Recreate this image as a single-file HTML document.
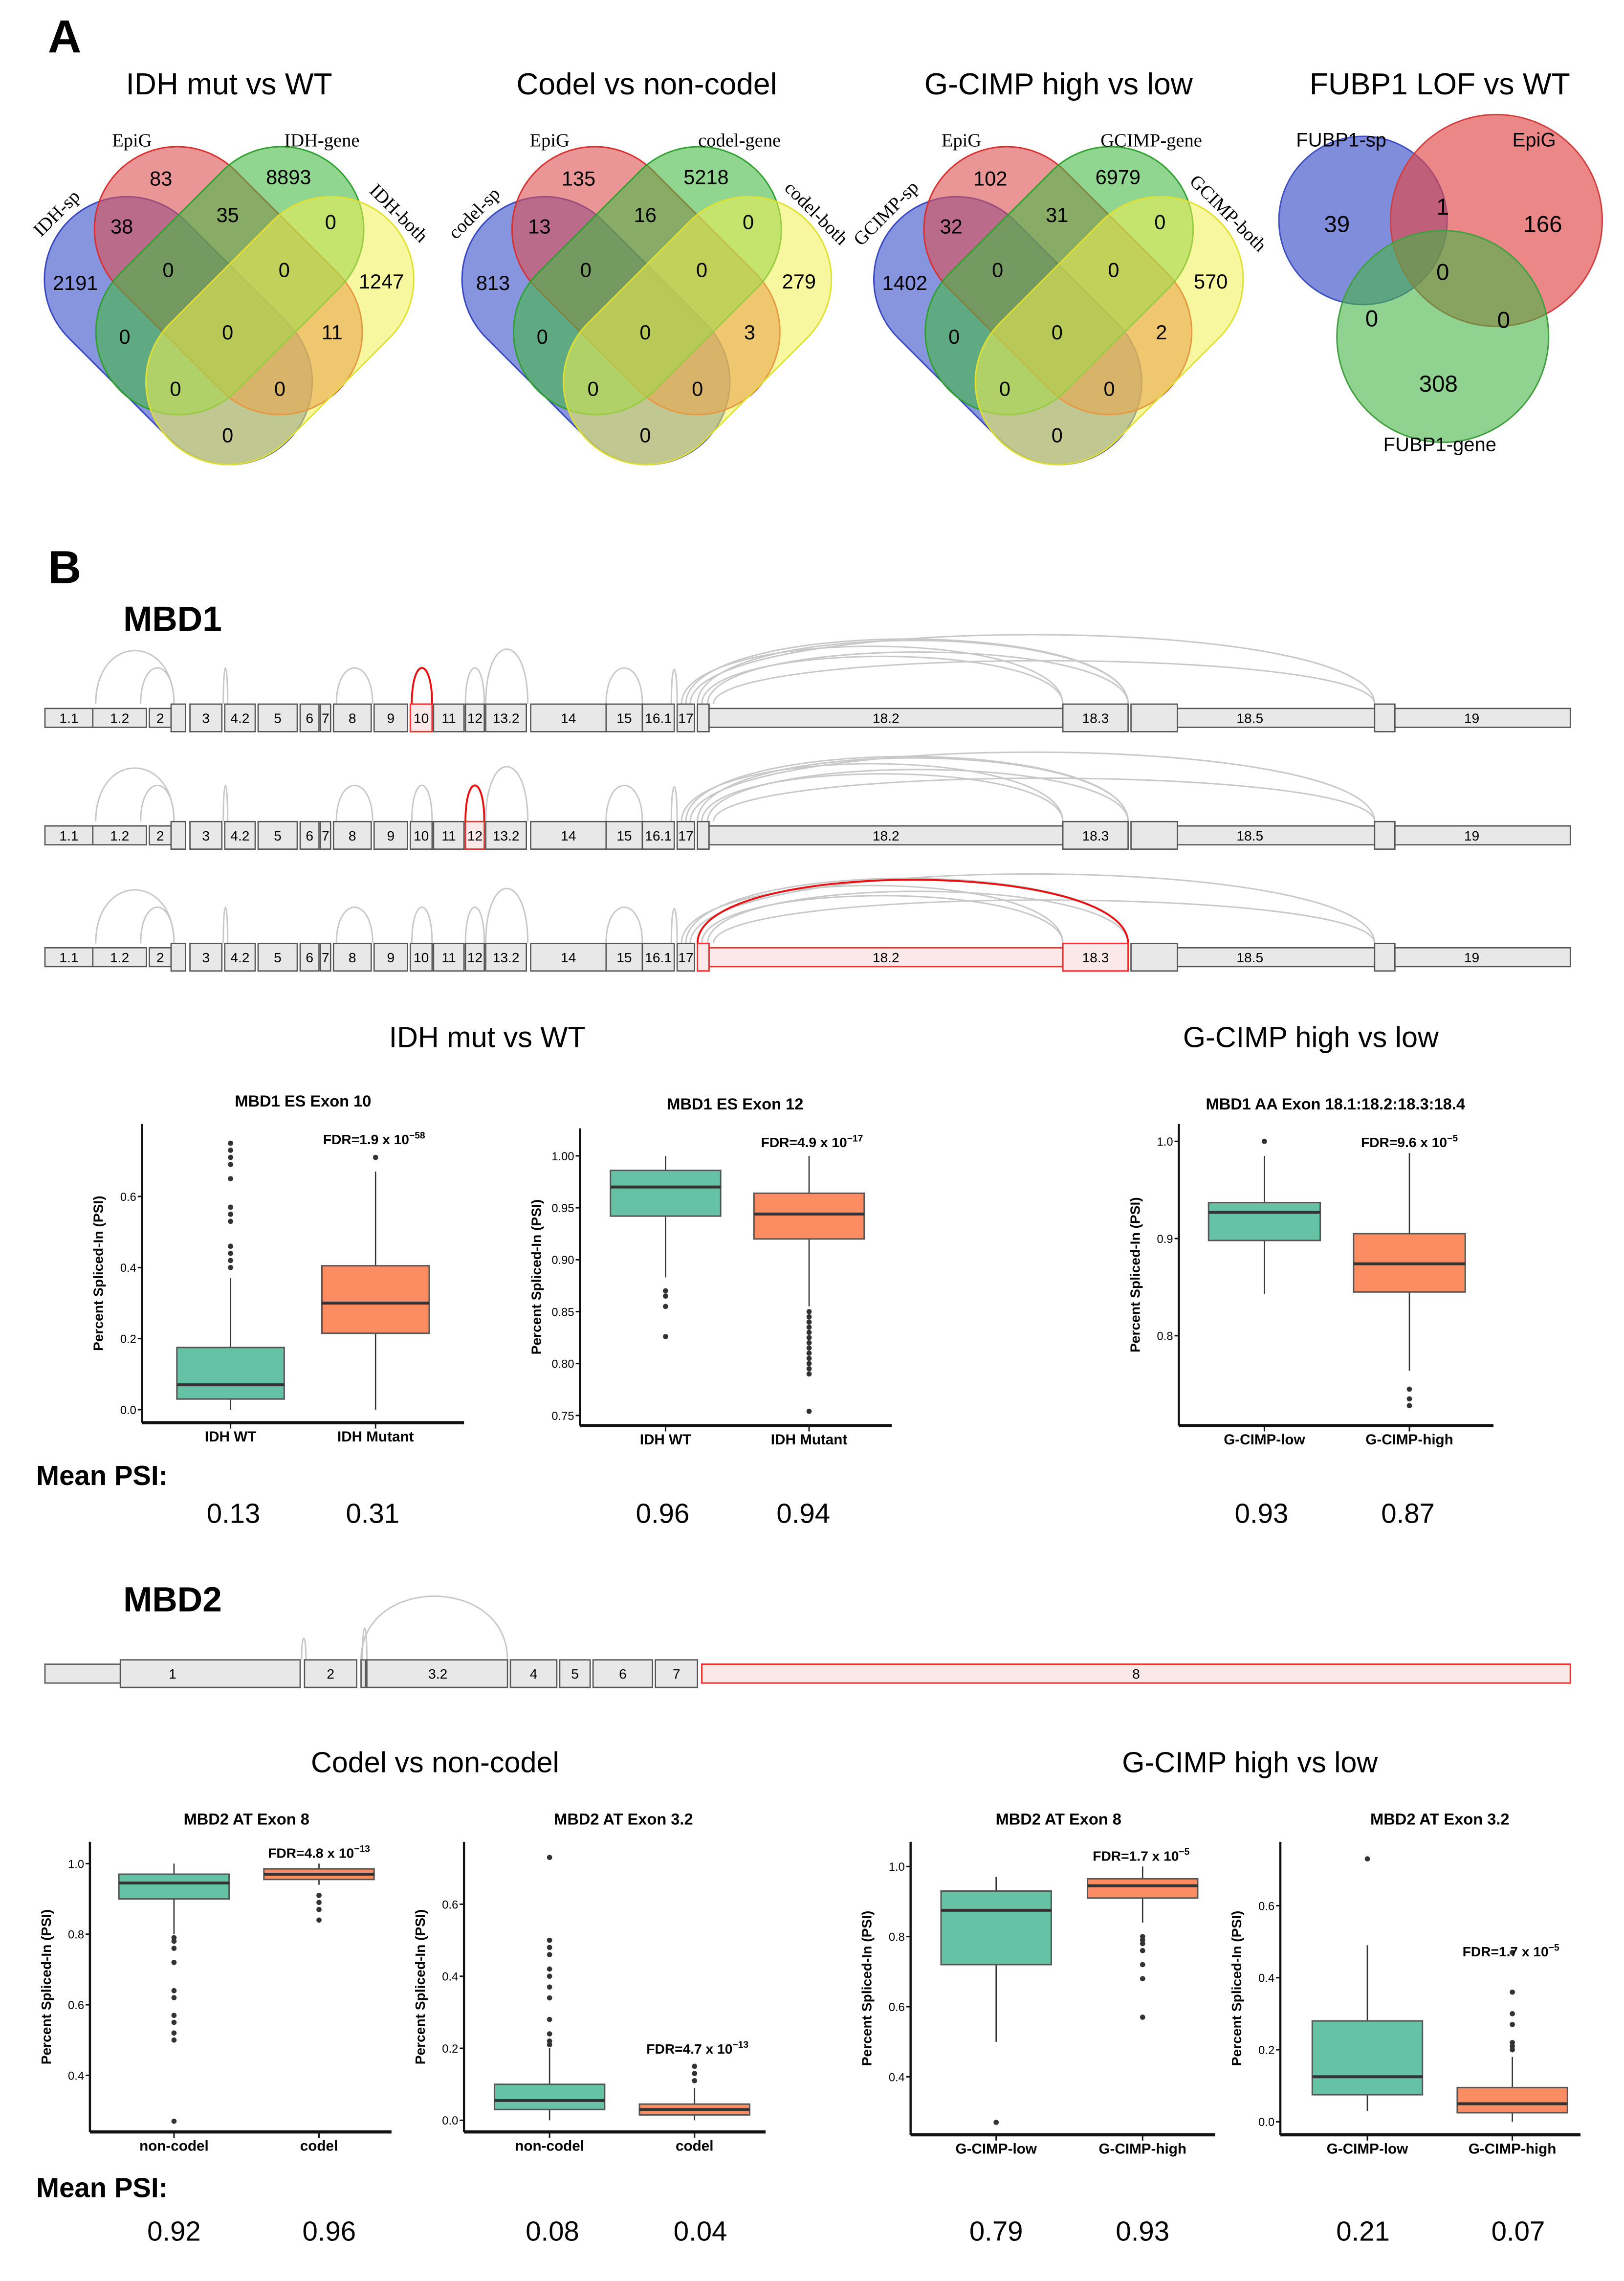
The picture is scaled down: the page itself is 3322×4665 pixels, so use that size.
<!DOCTYPE html>
<html><head><meta charset="utf-8"><style>
html,body{margin:0;padding:0;background:#fff;}
svg{display:block;}
text{font-family:"Liberation Sans",sans-serif;}
.sf{font-family:"Liberation Serif",serif;}
.nar{font-family:"Liberation Sans Narrow","Liberation Sans",sans-serif;}
</style></head><body>
<svg id="fig" xmlns="http://www.w3.org/2000/svg" width="3322" height="4665" viewBox="0 0 1120 1572.8" preserveAspectRatio="none">
<rect x="0" y="0" width="1120" height="1573" fill="#fff"/>
<text x="33" y="36" font-size="32" font-weight="bold">A</text>
<text x="33" y="402" font-size="32" font-weight="bold">B</text>
<text x="158" y="65" font-size="21" text-anchor="middle">IDH mut vs WT</text>
<text x="446" y="65" font-size="21" text-anchor="middle">Codel vs non-codel</text>
<text x="730" y="65" font-size="21" text-anchor="middle">G-CIMP high vs low</text>
<text x="993" y="65" font-size="21" text-anchor="middle">FUBP1 LOF vs WT</text>
<g id="venns"></g>
<text x="85" y="435" font-size="24" font-weight="bold">MBD1</text>
<text x="85" y="1111" font-size="24" font-weight="bold">MBD2</text>
<g id="genes"></g>
<text x="336" y="722" font-size="20" text-anchor="middle">IDH mut vs WT</text>
<text x="904" y="722" font-size="20" text-anchor="middle">G-CIMP high vs low</text>
<text x="300" y="1222" font-size="20" text-anchor="middle">Codel vs non-codel</text>
<text x="862" y="1222" font-size="20" text-anchor="middle">G-CIMP high vs low</text>
<g id="plots"></g>
<text x="25" y="1024" font-size="19" font-weight="bold" class="nar">Mean PSI:</text>
<text x="25" y="1515" font-size="19" font-weight="bold" class="nar">Mean PSI:</text>
<g font-size="19" text-anchor="middle">
<text x="161" y="1050">0.13</text>
<text x="257" y="1050">0.31</text>
<text x="457" y="1050">0.96</text>
<text x="554" y="1050">0.94</text>
<text x="870" y="1050">0.93</text>
<text x="971" y="1050">0.87</text>
</g>
<g font-size="19" text-anchor="middle">
<text x="120" y="1545">0.92</text>
<text x="227" y="1545">0.96</text>
<text x="381" y="1545">0.08</text>
<text x="483" y="1545">0.04</text>
<text x="687" y="1545">0.79</text>
<text x="788" y="1545">0.93</text>
<text x="940" y="1545">0.21</text>
<text x="1047" y="1545">0.07</text>
</g>
</svg>
<script>
// ===== Box plot data =====
const p1Cats=['IDH WT','IDH Mutant'];
const p1Low=[0.0,0.0];const p1Q1=[0.03,0.215];const p1Med=[0.07,0.30];const p1Q3=[0.175,0.405];const p1High=[0.37,0.67];
const p1Out=[[0.40,0.42,0.44,0.46,0.53,0.55,0.57,0.65,0.69,0.71,0.73,0.75],[0.71]];
const p1Ticks=[0.0,0.2,0.4,0.6];
const p2Cats=['IDH WT','IDH Mutant'];
const p2Low=[0.883,0.855];const p2Q1=[0.942,0.92];const p2Med=[0.97,0.944];const p2Q3=[0.986,0.964];const p2High=[1.0,1.0];
const p2Out=[[0.87,0.865,0.855,0.826],[0.85,0.845,0.84,0.835,0.83,0.825,0.82,0.815,0.81,0.805,0.80,0.795,0.79,0.754]];
const p2Ticks=[0.75,0.80,0.85,0.90,0.95,1.00];
const p3Cats=['G-CIMP-low','G-CIMP-high'];
const p3Low=[0.843,0.764];const p3Q1=[0.898,0.845];const p3Med=[0.927,0.874];const p3Q3=[0.937,0.905];const p3High=[0.985,0.988];
const p3Out=[[1.0],[0.745,0.735,0.728]];
const p3Ticks=[0.8,0.9,1.0];
const p4Cats=['non-codel','codel'];
const p4Low=[0.80,0.94];const p4Q1=[0.90,0.955];const p4Med=[0.945,0.97];const p4Q3=[0.97,0.985];const p4High=[1.0,1.0];
const p4Out=[[0.79,0.78,0.76,0.72,0.64,0.62,0.57,0.55,0.52,0.50,0.27],[0.91,0.89,0.87,0.84]];
const p4Ticks=[0.4,0.6,0.8,1.0];
const p5Cats=['non-codel','codel'];
const p5Low=[0.0,0.0];const p5Q1=[0.03,0.015];const p5Med=[0.055,0.03];const p5Q3=[0.10,0.045];const p5High=[0.20,0.09];
const p5Out=[[0.21,0.22,0.24,0.28,0.34,0.37,0.40,0.42,0.46,0.48,0.50,0.73],[0.11,0.13,0.15]];
const p5Ticks=[0.0,0.2,0.4,0.6];
const p6Cats=['G-CIMP-low','G-CIMP-high'];
const p6Low=[0.50,0.84];const p6Q1=[0.72,0.91];const p6Med=[0.875,0.945];const p6Q3=[0.93,0.965];const p6High=[0.97,1.0];
const p6Out=[[0.27],[0.80,0.79,0.78,0.76,0.72,0.68,0.57]];
const p6Ticks=[0.4,0.6,0.8,1.0];
const p7Cats=['G-CIMP-low','G-CIMP-high'];
const p7Low=[0.03,0.0];const p7Q1=[0.075,0.025];const p7Med=[0.125,0.05];const p7Q3=[0.28,0.095];const p7High=[0.49,0.18];
const p7Out=[[0.73],[0.20,0.21,0.22,0.27,0.30,0.36,0.47]];
const p7Ticks=[0.0,0.2,0.4,0.6];

const NS='http://www.w3.org/2000/svg';
function mk(tag,attrs,parent){const e=document.createElementNS(NS,tag);for(const k in attrs)e.setAttribute(k,attrs[k]);parent.appendChild(e);return e;}
function fmt(v,d){return v.toFixed(d);}

const plots=document.getElementById('plots');
const layouts=[
 {id:'p1',title:'MBD1 ES Exon 10',tx:209,ty:763,ax:98,top:775,xy:981,right:320,v0:0,y0:972,v1:0.6,y1:825,cx:[159,259],bw:74,dec:1,fdr:['FDR=1.9 x 10','−58'],fx:258,fy:789,cats:p1Cats,lo:p1Low,q1:p1Q1,md:p1Med,q3:p1Q3,hi:p1High,out:p1Out,ticks:p1Ticks},
 {id:'p2',title:'MBD1 ES Exon 12',tx:507,ty:765,ax:400,top:778,xy:983,right:615,v0:0.75,y0:976,v1:1.0,y1:797,cx:[459,558],bw:76,dec:2,fdr:['FDR=4.9 x 10','−17'],fx:560,fy:791,cats:p2Cats,lo:p2Low,q1:p2Q1,md:p2Med,q3:p2Q3,hi:p2High,out:p2Out,ticks:p2Ticks},
 {id:'p3',title:'MBD1 AA Exon 18.1:18.2:18.3:18.4',tx:921,ty:765,ax:813,top:775,xy:983,right:1030,v0:0.8,y0:921,v1:1.0,y1:787,cx:[872,972],bw:77,dec:1,fdr:['FDR=9.6 x 10','−5'],fx:972,fy:791,cats:p3Cats,lo:p3Low,q1:p3Q1,md:p3Med,q3:p3Q3,hi:p3High,out:p3Out,ticks:p3Ticks},
 {id:'p4',title:'MBD2 AT Exon 8',tx:170,ty:1258,ax:62,top:1270,xy:1470,right:270,v0:0.4,y0:1431,v1:1.0,y1:1285,cx:[120,220],bw:76,dec:1,fdr:['FDR=4.8 x 10','−13'],fx:220,fy:1281,cats:p4Cats,lo:p4Low,q1:p4Q1,md:p4Med,q3:p4Q3,hi:p4High,out:p4Out,ticks:p4Ticks},
 {id:'p5',title:'MBD2 AT Exon 3.2',tx:430,ty:1258,ax:320,top:1270,xy:1470,right:528,v0:0,y0:1462,v1:0.6,y1:1313,cx:[379,479],bw:76,dec:1,fdr:['FDR=4.7 x 10','−13'],fx:481,fy:1416,cats:p5Cats,lo:p5Low,q1:p5Q1,md:p5Med,q3:p5Q3,hi:p5High,out:p5Out,ticks:p5Ticks},
 {id:'p6',title:'MBD2 AT Exon 8',tx:730,ty:1258,ax:628,top:1270,xy:1472,right:838,v0:0.4,y0:1432,v1:1.0,y1:1287,cx:[687,788],bw:76,dec:1,fdr:['FDR=1.7 x 10','−5'],fx:787,fy:1283,cats:p6Cats,lo:p6Low,q1:p6Q1,md:p6Med,q3:p6Q3,hi:p6High,out:p6Out,ticks:p6Ticks},
 {id:'p7',title:'MBD2 AT Exon 3.2',tx:993,ty:1258,ax:883,top:1270,xy:1472,right:1090,v0:0,y0:1463,v1:0.6,y1:1314,cx:[943,1043],bw:76,dec:1,fdr:['FDR=1.7 x 10','−5'],fx:1042,fy:1349,cats:p7Cats,lo:p7Low,q1:p7Q1,md:p7Med,q3:p7Q3,hi:p7High,out:p7Out,ticks:p7Ticks}
];
const fills=['#66c2a5','#fc8d62'];
layouts.forEach(L=>{
 const g=mk('g',{},plots);
 
 
 const ys=v=>L.y0+(v-L.v0)*(L.y1-L.y0)/(L.v1-L.v0);
 const t=mk('text',{x:L.tx,y:L.ty,'font-size':11,'font-weight':'bold','text-anchor':'middle',class:'nar'},g);t.textContent=L.title;
 
 
 const ya=mk('line',{x1:L.ax,y1:L.top,x2:L.ax,y2:L.xy,stroke:'#111','stroke-width':1.5},g);
 
 
 const xa=mk('line',{x1:L.ax,y1:L.xy,x2:L.right,y2:L.xy,stroke:'#111','stroke-width':2.2},g);
 
 
 const yl=mk('text',{x:0,y:0,'font-size':9.5,'font-weight':'bold','text-anchor':'middle',transform:`translate(${L.ax-27},${(L.top+L.xy)/2}) rotate(-90)`},g);yl.textContent='Percent Spliced-In (PSI)';
 
 
 L.ticks.forEach(v=>{
  const y=ys(v);
  const tk=mk('line',{x1:L.ax-3,y1:y,x2:L.ax,y2:y,stroke:'#111','stroke-width':1},g);
  
  
  const tl=mk('text',{x:L.ax-4,y:y+3,'font-size':8,'text-anchor':'end',class:'nar'},g);tl.textContent=fmt(v,L.dec);
  
  
 });
 L.cats.forEach((c,i)=>{
  const x=L.cx[i],h=L.bw/2;
  const tk=mk('line',{x1:x,y1:L.xy,x2:x,y2:L.xy+4,stroke:'#111','stroke-width':1},g);
  
  
  const cl=mk('text',{x:x,y:L.xy+13,'font-size':10,'font-weight':'bold','text-anchor':'middle',class:'nar'},g);cl.textContent=c;
  
  
  const w=mk('line',{x1:x,y1:ys(L.lo[i]),x2:x,y2:ys(L.hi[i]),stroke:'#333','stroke-width':0.9},g);
  
  
  const b=mk('rect',{x:x-h,y:ys(L.q3[i]),width:L.bw,height:ys(L.q1[i])-ys(L.q3[i]),fill:fills[i],stroke:'#555','stroke-width':1},g);
  
  
  const m=mk('line',{x1:x-h,y1:ys(L.md[i]),x2:x+h,y2:ys(L.md[i]),stroke:'#333','stroke-width':2},g);
  
  
  L.out[i].forEach(v=>{
   const d=mk('circle',{cx:x,cy:ys(v),r:1.8,fill:'#333'},g);
   
   
  });
 });
 const f=mk('text',{x:L.fx,y:L.fy,'font-size':9.5,'font-weight':'bold','text-anchor':'middle',class:'nar'},g);
 f.textContent=L.fdr[0];
 const sp=mk('tspan',{dy:-4,'font-size':6.5},f);sp.textContent=L.fdr[1];
 
 
});

// ===== Venn diagrams =====
const venns=document.getElementById('venns');
const vennNums=[
 ['83','8893','38','35','0','2191','0','0','1247','0','0','11','0','0','0'],
 ['135','5218','13','16','0','813','0','0','279','0','0','3','0','0','0'],
 ['102','6979','32','31','0','1402','0','0','570','0','0','2','0','0','0']];
const vennLabels=[['EpiG','IDH-gene','IDH-sp','IDH-both'],['EpiG','codel-gene','codel-sp','codel-both'],['EpiG','GCIMP-gene','GCIMP-sp','GCIMP-both']];
const numPos=[[111,123],[199,122],[84,156],[157,148],[228,153],[52,195],[116,186],[196,186],[263,194],[86,232],[157,229],[229,229],[121,268],[193,268],[157,300]];
[158,446,730].forEach((cx,vi)=>{
 const g=mk('g',{},venns);
 
 
 const dx=cx-158;
 const shapes=[[123+dx,228,45,'rgba(70,90,205,0.65)','#3848c0','blue'],[157.5+dx,193.5,45,'rgba(220,80,80,0.6)','#d83030','red'],[158.5+dx,193.5,-45,'rgba(70,185,70,0.6)','#30a030','green'],[193+dx,228,-45,'rgba(240,240,80,0.55)','#e0e030','yellow']];
 shapes.forEach(e=>{
  const el=mk('rect',{x:-107,y:-57,width:214,height:114,rx:57,ry:57,fill:e[3],stroke:e[4],'stroke-width':1,transform:`translate(${e[0]},${e[1]}) rotate(${e[2]})`},g);
  
  
 });
 numPos.forEach((p,k)=>{
  const t=mk('text',{x:p[0]+dx,y:p[1]+5,'font-size':14,'text-anchor':'middle'},g);t.textContent=vennNums[vi][k];
  
  
 });
 const lb=vennLabels[vi];
 const lp=[[91+dx,101,0,'middle'],[222+dx,101,0,'middle'],[42+dx,150,-45,'middle'],[272+dx,150,45,'middle']];
 lp.forEach((p,k)=>{
  const t=mk('text',{x:0,y:0,'font-size':13,'text-anchor':p[3],class:'sf',transform:`translate(${p[0]},${p[1]}) rotate(${p[2]})`},g);t.textContent=lb[k];
  
  
 });
});
{
 const g=mk('g',{},venns);
 
 
 [[940,152,58,'rgba(60,80,200,0.65)','#4050c0','blue'],[1032,152,73,'rgba(225,70,70,0.65)','#d04040','red'],[995,232,73,'rgba(70,180,70,0.6)','#40a040','green']].forEach(c=>{
  const e=mk('circle',{cx:c[0],cy:c[1],r:c[2],fill:c[3],stroke:c[4],'stroke-width':1},g);
  
  
 });
 [['39',922,160],['1',995,148],['166',1064,160],['0',995,193],['0',946,225],['0',1037,226],['308',992,270]].forEach(n=>{
  const t=mk('text',{x:n[1],y:n[2],'font-size':16,'text-anchor':'middle'},g);t.textContent=n[0];
  
  
 });
 [['FUBP1-sp',925,101],['EpiG',1058,101],['FUBP1-gene',993,311]].forEach(n=>{
  const t=mk('text',{x:n[1],y:n[2],'font-size':13.5,'text-anchor':'middle'},g);t.textContent=n[0];
  
  
 });
}

// ===== Gene tracks =====
const genes=document.getElementById('genes');
const mbd1Exons=[[31,64,'1.1',0],[64,101,'1.2',0],[103,118,'2',0],[118,128,'',1],[131,153,'3',1],[155,176,'4.2',1],[178,205,'5',1],[207,220,'6',1],[221,228,'7',1],[230,256,'8',1],[258,281,'9',1],[283,298,'10',1],[299,320,'11',1],[321,334,'12',1],[335,363,'13.2',1],[366,418,'14',1],[418,443,'15',1],[443,465,'16.1',1],[467,479,'17',1],[481,489,'',1],[489,733,'18.2',0],[733,778,'18.3',1],[780,812,'',1],[812,948,'18.5',0],[948,962,'',1],[962,1083,'19',0]];
const mbd1Arcs=[[66,120,37],[97,120,25],[154,157,25],[232,257,25],[284,298,25],[321,334,25],[335,364,38],[418,443,25],[463,467,24],[470,733,40],[473,778,45],[476,948,48],[484,733,33],[488,778,36],[492,948,30],[481,778,44]];
function drawTrack(exons,arcs,cy,redEx,redArc,name,labelPos){
 const g=mk('g',{},genes);
 
 
 const top=cy-9.5;
 arcs.forEach((a,i)=>{
  const red=redArc.includes(i);
  const k=a[2]*1.33;
  const p=mk('path',{d:`M${a[0]} ${top} C${a[0]} ${top-k} ${a[1]} ${top-k} ${a[1]} ${top}`,fill:'none',stroke:red?'#e81010':'#c8c8c8','stroke-width':red?1.3:1},g);
  
  
 });
 exons.forEach((e,i)=>{
  const red=redEx.includes(i);
  const h=e[3]?19:13;
  const r=mk('rect',{x:e[0],y:cy-h/2,width:e[1]-e[0],height:h,fill:red?'#fbe8e8':'#e8e8e8',stroke:red?'#ee3030':'#555','stroke-width':red?1:0.9},g);
  
  
  if(e[2]){
   const lx=(labelPos&&labelPos[e[2]])||(e[0]+e[1])/2;
   const t=mk('text',{x:lx,y:cy+3.5,'font-size':9.5,'text-anchor':'middle',class:'nar'},g);t.textContent=e[2];
   
   
  }
 });
}
drawTrack(mbd1Exons,mbd1Arcs,495,[11],[4],'mbd1-track-exon10',{'18.5':862,'19':1015});
drawTrack(mbd1Exons,mbd1Arcs,576,[13],[5],'mbd1-track-exon12',{'18.5':862,'19':1015});
drawTrack(mbd1Exons,mbd1Arcs,660,[19,20,21],[15],'mbd1-track-exon18',{'18.5':862,'19':1015});
const mbd2Exons=[[31,83,'',0],[83,207,'1',1],[210,246,'2',1],[249,252,'',1],[253,350,'3.2',1],[352,384,'4',1],[386,407,'5',1],[409,450,'6',1],[452,481,'7',1],[484,1083,'8',0]];
const mbd2Arcs=[[249,350,44],[250,253,22],[208,211,15]];
drawTrack(mbd2Exons,mbd2Arcs,1154,[9],[],'mbd2-track',{'1':119,'3.2':302});
</script>
</body></html>
